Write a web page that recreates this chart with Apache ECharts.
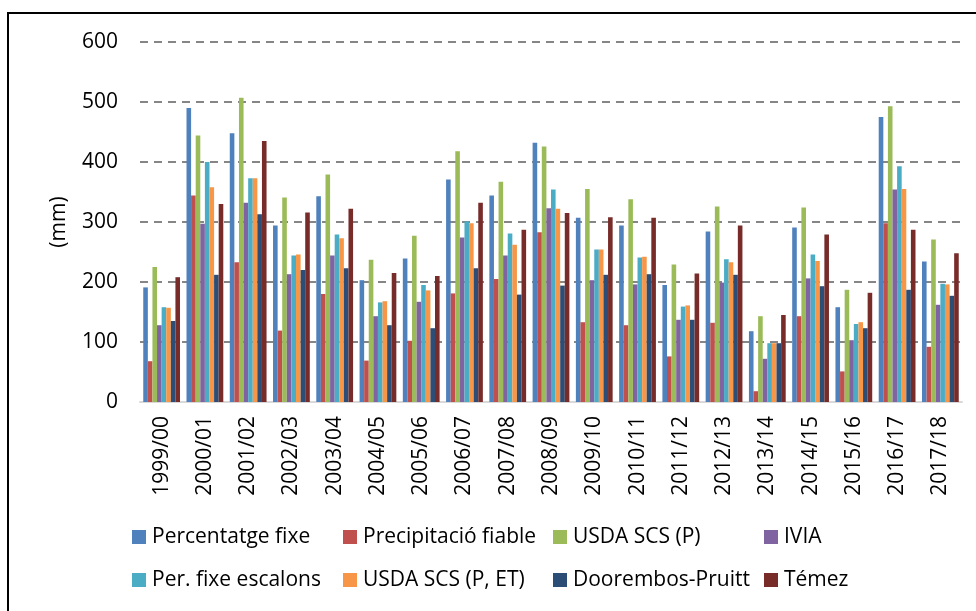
<!DOCTYPE html>
<html>
<head>
<meta charset="utf-8">
<script src="https://cdn.jsdelivr.net/npm/echarts@6/dist/echarts.min.js"></script>
<style>
html,body{margin:0;padding:0;background:#fff;}
#chart{width:976px;height:611px;}
</style>
</head>
<body>
<div id="chart"></div>
<script>
const categories = ['1999/00','2000/01','2001/02','2002/03','2003/04','2004/05','2005/06','2006/07','2007/08','2008/09','2009/10','2010/11','2011/12','2012/13','2013/14','2014/15','2015/16','2016/17','2017/18'];
const yTicks = [0,100,200,300,400,500,600];

const percentatgeFixe   = [191,490,448,294,343,203,239,371,344,432,307,294,195,284,118,291,158,475,234];
const precipitacioFiable= [68,344,233,119,180,69,102,181,205,283,133,128,76,132,18,143,51,298,92];
const usdaP             = [225,444,507,341,379,237,277,418,367,426,355,338,229,326,143,324,187,493,271];
const ivia              = [128,297,332,213,244,143,167,274,244,323,203,196,137,199,72,206,103,354,162];
const perFixeEscalons   = [158,400,373,244,279,166,195,301,281,354,254,241,159,238,98,246,130,393,197];
const usdaPET           = [157,358,373,246,273,168,186,298,262,322,254,242,161,233,98,235,133,355,196];
const dooremboPruitt    = [135,212,313,220,223,128,123,223,179,194,212,213,137,212,98,193,123,187,177];
const temez             = [208,330,435,316,322,215,210,332,287,315,308,307,214,294,145,279,182,287,248];

const seriesNames = ['Percentatge fixe','Precipitació fiable','USDA SCS (P)','IVIA','Per. fixe escalons','USDA SCS (P, ET)','Doorembos-Pruitt','Témez'];
const seriesData = [percentatgeFixe,precipitacioFiable,usdaP,ivia,perFixeEscalons,usdaPET,dooremboPruitt,temez];
const colors = ['#4F81BD','#C0504D','#9BBB59','#8064A2','#4BACC6','#F79646','#2C4D75','#772C2A'];

const FONT = 'Open Sans';
const FS = 21;
const chart = echarts.init(document.getElementById('chart'), null, {renderer:'canvas'});

const legendCols = [127,338,548,759];
const legends = legendCols.map((x,i)=>({
  orient:'vertical',
  left:x, top:520,
  itemWidth:14, itemHeight:14, itemGap:19,
  icon:'rect',
  data:[seriesNames[i], seriesNames[i+4]],
  textStyle:{fontFamily:FONT,fontSize:FS,color:'#000',lineHeight:24,padding:[0,0,0,1]},
  selectedMode:false
}));

chart.setOption({
  animation:false,
  color:colors,
  textStyle:{fontFamily:FONT},
  grid:{left:140,right:14,top:42,bottom:209,containLabel:false},
  legend:legends,
  graphic:[{type:'rect',shape:{x:8,y:13,width:1000,height:700},style:{fill:'none',stroke:'#000',lineWidth:2},silent:true,z:100}],
  xAxis:{
    type:'category',
    data:categories,
    axisLine:{show:true,lineStyle:{color:'#D9D9D9',width:2}},
    axisTick:{show:false},
    axisLabel:{rotate:90,margin:14,fontFamily:FONT,fontSize:FS,color:'#000',interval:0}
  },
  yAxis:{
    type:'value',
    min:yTicks[0], max:yTicks[yTicks.length-1], interval:100,
    name:'(mm)', nameLocation:'middle', nameGap:70, nameRotate:90,
    nameTextStyle:{fontFamily:FONT,fontSize:FS,color:'#000'},
    axisLine:{show:false}, axisTick:{show:false},
    axisLabel:{fontFamily:FONT,fontSize:FS,color:'#000',margin:22},
    splitLine:{show:true,lineStyle:{color:'#868686',width:2,type:[8,6]}}
  },
  series: seriesNames.map((n,i)=>({
    name:n, type:'bar', data:seriesData[i],
    barGap:'0%', barCategoryGap:'15%',
    itemStyle:{color:colors[i]}
  }))
});
</script>
</body>
</html>
